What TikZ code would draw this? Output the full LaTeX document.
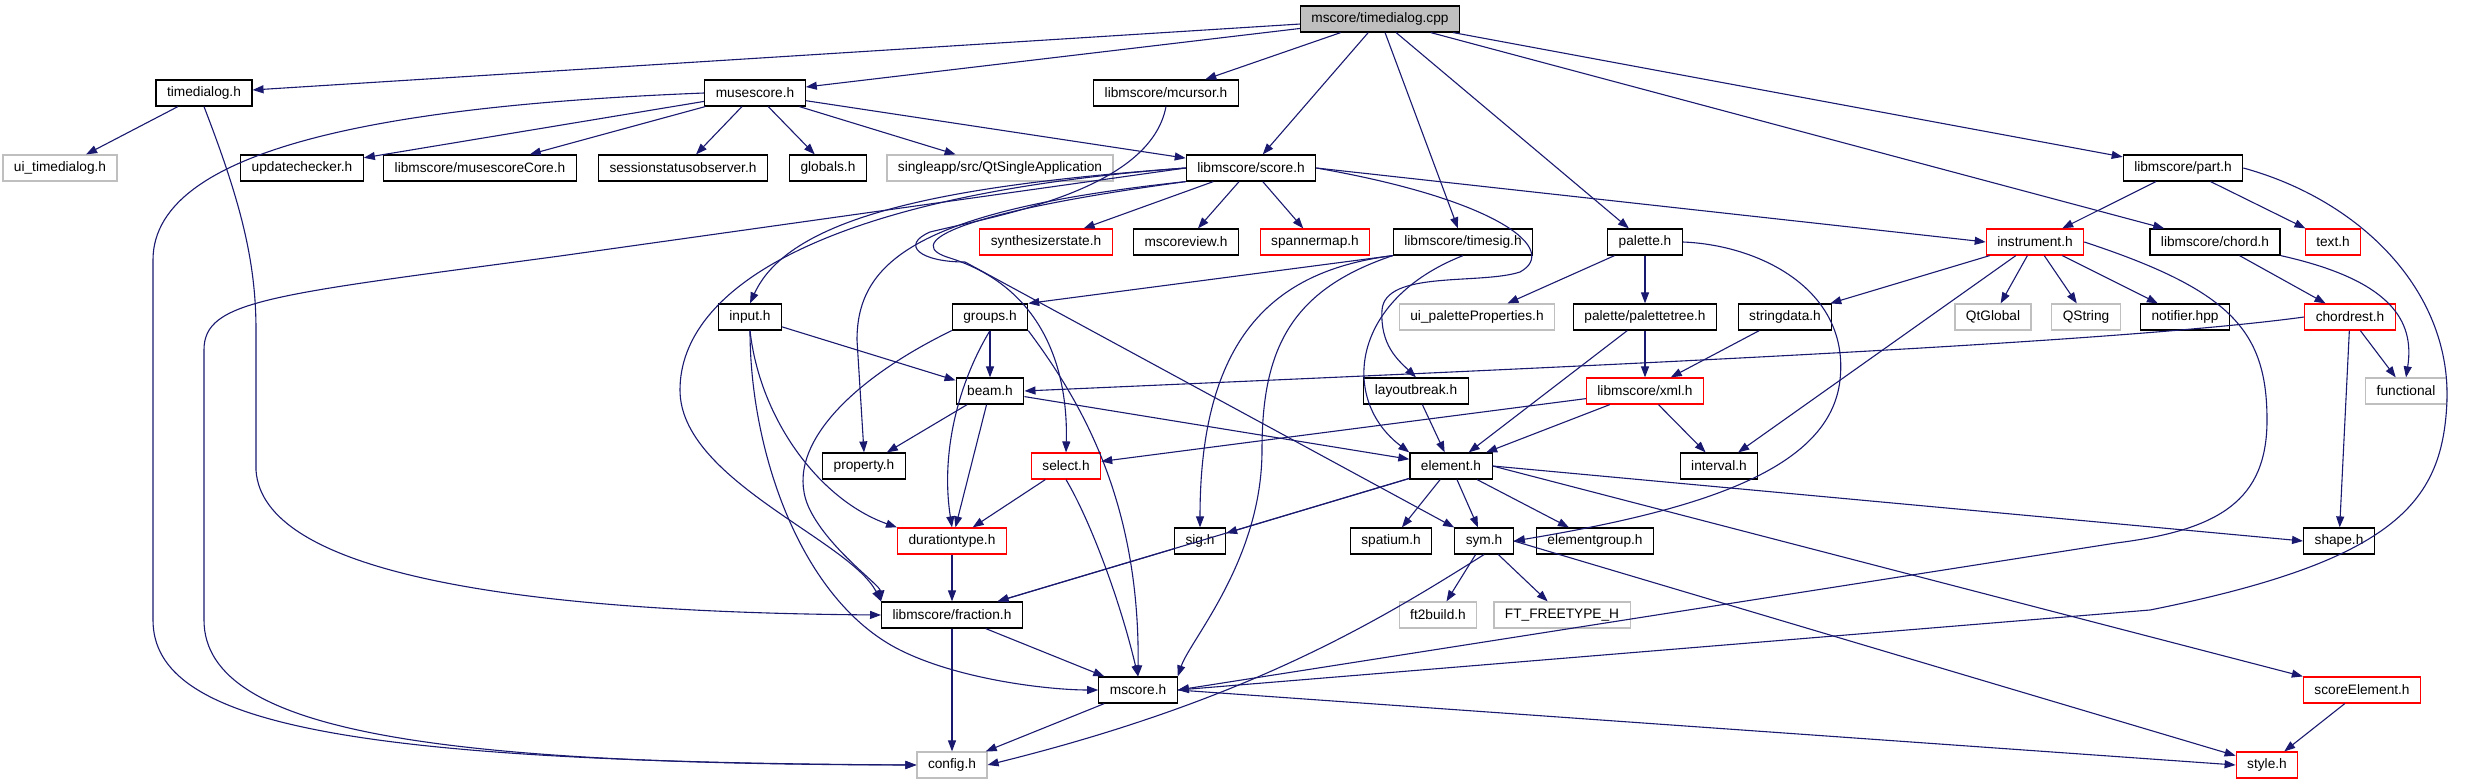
\documentclass[tikz,border=0pt]{standalone}
\usepackage{fontspec}
\setmainfont{Liberation Sans}
\usetikzlibrary{arrows.meta}
\definecolor{incblue}{HTML}{191970}
\definecolor{nofile}{HTML}{BFBFBF}
\tikzset{
  hfile/.style={draw=black, fill=white, line width=1.2pt, minimum height=26pt, inner xsep=11pt, inner ysep=0pt, font=\fontsize{13.7}{16}\selectfont},
  hred/.style={hfile, draw=red},
  hext/.style={hfile, draw=nofile},
  hsrc/.style={hfile, fill=nofile},
  incl/.style={draw=incblue, line width=1.1pt, -{Triangle[length=11pt,width=8pt]}},
}

\begin{document}
\begin{tikzpicture}[x=1pt, y=-1pt]
\useasboundingbox (0,0) rectangle (2470,784);
\node[hsrc] (cpp) at (1380,19) {mscore/timedialog.cpp};
\node[hfile] (timedialog) at (204,93) {timedialog.h};
\node[hfile] (musescore) at (755,93) {musescore.h};
\node[hfile] (mcursor) at (1166,93) {libmscore/mcursor.h};
\node[hext] (uitimedialog) at (60,168) {ui\_timedialog.h};
\node[hfile] (updatechecker) at (302,168) {updatechecker.h};
\node[hfile] (musescorecore) at (480,168) {libmscore/musescoreCore.h};
\node[hfile] (sessionobs) at (683,168) {sessionstatusobserver.h};
\node[hfile] (globals) at (828,168) {globals.h};
\node[hext] (qtsingle) at (1000,168) {singleapp/src/QtSingleApplication};
\node[hfile] (score) at (1251,168) {libmscore/score.h};
\node[hfile] (part) at (2183,168) {libmscore/part.h};
\node[hred] (synthstate) at (1046,242) {synthesizerstate.h};
\node[hfile] (mscoreview) at (1186,242) {mscoreview.h};
\node[hred] (spannermap) at (1315,242) {spannermap.h};
\node[hfile] (timesig) at (1463,242) {libmscore/timesig.h};
\node[hfile] (palette) at (1645,242) {palette.h};
\node[hred] (instrument) at (2035,242) {instrument.h};
\node[hfile] (chord) at (2215,242) {libmscore/chord.h};
\node[hred] (text) at (2333,242) {text.h};
\node[hfile] (input) at (750,317) {input.h};
\node[hfile] (groups) at (990,317) {groups.h};
\node[hext] (uipaletteprops) at (1477,317) {ui\_paletteProperties.h};
\node[hfile] (palettetree) at (1645,317) {palette/palettetree.h};
\node[hfile] (stringdata) at (1785,317) {stringdata.h};
\node[hext] (qtglobal) at (1993,317) {QtGlobal};
\node[hext] (qstring) at (2086,317) {QString};
\node[hfile] (notifier) at (2185,317) {notifier.hpp};
\node[hred] (chordrest) at (2350,317) {chordrest.h};
\node[hfile] (beam) at (990,391) {beam.h};
\node[hfile] (layoutbreak) at (1416,391) {layoutbreak.h};
\node[hred] (xml) at (1645,391) {libmscore/xml.h};
\node[hext] (functional) at (2406,391) {functional};
\node[hfile] (property) at (864,466) {property.h};
\node[hred] (select) at (1066,466) {select.h};
\node[hfile] (element) at (1451,466) {element.h};
\node[hfile] (interval) at (1719,466) {interval.h};
\node[hred] (durationtype) at (952,541) {durationtype.h};
\node[hfile] (sig) at (1200,541) {sig.h};
\node[hfile] (spatium) at (1391,541) {spatium.h};
\node[hfile] (sym) at (1484,541) {sym.h};
\node[hfile] (elementgroup) at (1595,541) {elementgroup.h};
\node[hfile] (shape) at (2339,541) {shape.h};
\node[hfile] (fraction) at (952,615) {libmscore/fraction.h};
\node[hext] (ft2build) at (1438,615) {ft2build.h};
\node[hext] (freetype) at (1562,615) {FT\_FREETYPE\_H};
\node[hfile] (mscore) at (1138,690) {mscore.h};
\node[hred] (scoreelement) at (2362,690) {scoreElement.h};
\node[hext] (config) at (952,765) {config.h};
\node[hred] (style) at (2267,765) {style.h};

\draw[incl] (cpp) -- (timedialog);
\draw[incl] (cpp) -- (musescore);
\draw[incl] (cpp) -- (mcursor);
\draw[incl] (cpp) -- (score);
\draw[incl] (cpp) -- (timesig);
\draw[incl] (cpp) -- (palette);
\draw[incl] (cpp) -- (chord);
\draw[incl] (cpp) -- (part);
\draw[incl] (timedialog) -- (uitimedialog);
\draw[incl] (timedialog.south) .. controls (240,200) and (256,260) .. (256,330) -- (256,470) .. controls (262,570) and (500,612) .. (fraction.west);
\draw[incl] (musescore) -- (updatechecker);
\draw[incl] (musescore) -- (musescorecore);
\draw[incl] (musescore) -- (sessionobs);
\draw[incl] (musescore) -- (globals);
\draw[incl] (musescore) -- (qtsingle);
\draw[incl] (musescore) -- (score);
\draw[incl] (musescore.west) .. controls (400,105) and (153,145) .. (153,260) -- (153,620) .. controls (153,725) and (350,762) .. (config.west);
\draw[incl] (mcursor.south) .. controls (1150,190) and (1000,215) .. (930,232) .. controls (900,245) and (920,262) .. (965,262) -- (sym.north west);
\draw[incl] (score) -- (synthstate);
\draw[incl] (score) -- (mscoreview);
\draw[incl] (score) -- (spannermap);
\draw[incl] (score.east) -- (instrument.west);
\draw[incl] (score.west) -- (560,256) .. controls (270,295) and (204,300) .. (204,350) -- (204,620) .. controls (204,735) and (450,764) .. (config.west);
\draw[incl] (score.west) .. controls (950,185) and (790,215) .. (input.north);
\draw[incl] (score.west) .. controls (820,195) and (680,290) .. (680,390) .. controls (680,480) and (850,540) .. (fraction.north west);
\draw[incl] (score.south west) .. controls (920,210) and (857,260) .. (857,340) -- (property.north);
\draw[incl] (score.south west) .. controls (940,215) and (905,245) .. (950,258) .. controls (1050,290) and (1068,380) .. (select.north);
\draw[incl] (score.east) .. controls (1500,200) and (1560,250) .. (1520,272) .. controls (1480,285) and (1385,270) .. (1382,310) .. controls (1380,345) and (1398,360) .. (layoutbreak.north);
\draw[incl] (part) -- (instrument);
\draw[incl] (part) -- (text);
\draw[incl] (part.east) .. controls (2360,200) and (2450,290) .. (2447,400) .. controls (2443,500) and (2400,560) .. (2150,610) -- (mscore.east);
\draw[incl] (timesig.south west) -- (groups.north east);
\draw[incl] (timesig.south west) .. controls (1280,270) and (1200,330) .. (sig.north);
\draw[incl] (timesig.south west) .. controls (1290,290) and (1262,350) .. (1262,450) .. controls (1262,560) and (1190,640) .. (mscore.north east);
\draw[incl] (timesig.south) .. controls (1350,300) and (1340,400) .. (element.north west);
\draw[incl] (palette) -- (uipaletteprops);
\draw[incl] (palette) -- (palettetree);
\draw[incl] (palette.east) .. controls (1760,245) and (1850,290) .. (1840,380) .. controls (1830,470) and (1700,510) .. (sym.east);
\draw[incl] (instrument) -- (stringdata);
\draw[incl] (instrument) -- (qtglobal);
\draw[incl] (instrument) -- (qstring);
\draw[incl] (instrument) -- (notifier);
\draw[incl] (instrument) -- (interval);
\draw[incl] (instrument.east) .. controls (2230,290) and (2267,330) .. (2267,420) .. controls (2267,500) and (2220,530) .. (2116,543) -- (mscore.east);
\draw[incl] (chord) -- (chordrest);
\draw[incl] (chord.south east) .. controls (2390,280) and (2415,320) .. (functional.north);
\draw[incl] (input) -- (beam);
\draw[incl] (input.south) .. controls (760,420) and (820,500) .. (durationtype.north west);
\draw[incl] (input.south) .. controls (750,450) and (800,600) .. (900,650) .. controls (960,680) and (1050,690) .. (mscore.west);
\draw[incl] (groups) -- (beam);
\draw[incl] (groups.south) .. controls (960,380) and (940,450) .. (durationtype.north);
\draw[incl] (groups.south west) .. controls (850,380) and (780,450) .. (810,510) .. controls (830,550) and (880,585) .. (fraction.north west);
\draw[incl] (groups.south east) .. controls (1080,400) and (1140,500) .. (mscore.north);
\draw[incl] (palettetree) -- (xml);
\draw[incl] (palettetree) -- (element);
\draw[incl] (stringdata) -- (xml);
\draw[incl] (chordrest.west) .. controls (2100,345) and (1500,370) .. (beam.east);
\draw[incl] (chordrest) -- (functional);
\draw[incl] (chordrest) -- (shape);
\draw[incl] (beam) -- (property);
\draw[incl] (beam) -- (durationtype);
\draw[incl] (beam) -- (element);
\draw[incl] (layoutbreak) -- (element);
\draw[incl] (xml) -- (select);
\draw[incl] (xml) -- (element);
\draw[incl] (xml) -- (interval);
\draw[incl] (select) -- (durationtype);
\draw[incl] (select.south) .. controls (1090,520) and (1120,600) .. (mscore.north);
\draw[incl] (element) -- (sig);
\draw[incl] (element) -- (fraction);
\draw[incl] (element) -- (spatium);
\draw[incl] (element) -- (sym);
\draw[incl] (element) -- (elementgroup);
\draw[incl] (element.east) -- (shape.west);
\draw[incl] (element.east) -- (scoreelement.north west);
\draw[incl] (durationtype) -- (fraction);
\draw[incl] (sig) -- (fraction);
\draw[incl] (sym) -- (ft2build);
\draw[incl] (sym) -- (freetype);
\draw[incl] (sym.south) .. controls (1380,620) and (1250,700) .. (config.east);
\draw[incl] (sym.east) -- (style);
\draw[incl] (fraction) -- (mscore);
\draw[incl] (fraction) -- (config);
\draw[incl] (mscore) -- (config);
\draw[incl] (mscore.east) -- (style.west);
\draw[incl] (scoreelement) -- (style);
\end{tikzpicture}
\end{document}
